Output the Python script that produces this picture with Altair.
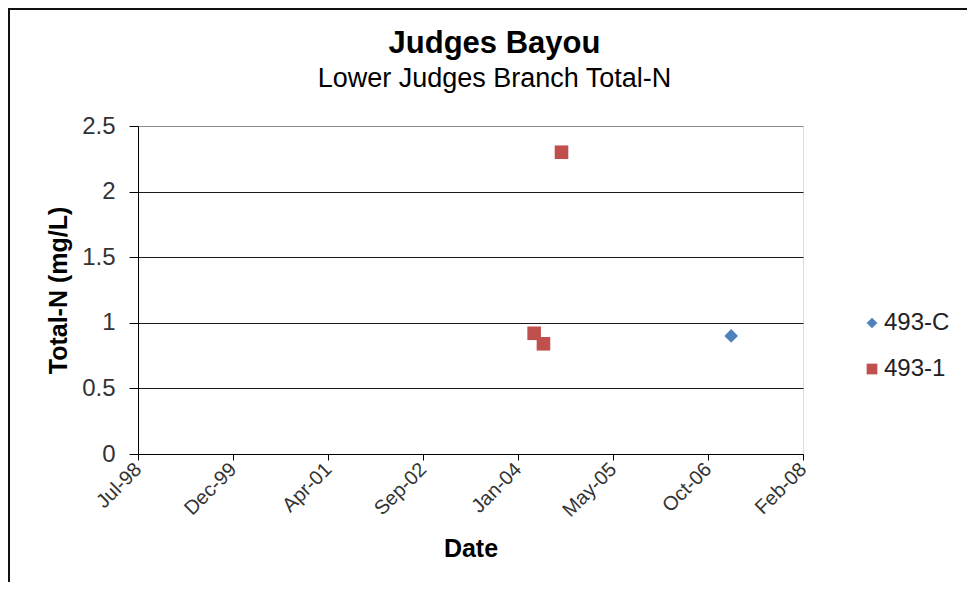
import altair as alt
import pandas as pd

# ---- data ----
series = ["493-C", "493-1", "493-1", "493-1"]
dates = ["2007-02-09", "2004-04-08", "2004-05-27", "2004-08-30"]
total_n = [0.90, 0.92, 0.84, 2.30]

series_order = ["493-C", "493-1"]
series_colors = ["#4F81BD", "#C0504D"]
series_shapes = ["diamond", "square"]

# Excel date-axis ticks (every 500 days)
x_tick_dates = [
    (1998, 7, 24), (1999, 12, 6), (2001, 4, 19), (2002, 9, 1),
    (2004, 1, 14), (2005, 5, 28), (2006, 10, 10), (2008, 2, 22),
]
y_ticks = [0, 0.5, 1, 1.5, 2, 2.5]

df = pd.DataFrame({"series": series, "date": dates, "value": total_n})

W, H = 665, 328
PAD = {"left": 130, "top": 118, "right": 164, "bottom": 128}
FONT = "Liberation Sans"


def dt(t):
    return alt.DateTime(year=t[0], month=t[1], date=t[2], utc=True)


tick_vals = [dt(t) for t in x_tick_dates]

points = alt.Chart(df).mark_point(filled=True, size=185, opacity=1).encode(
    x=alt.X(
        "date:T",
        scale=alt.Scale(type="utc", domain=[tick_vals[0], tick_vals[-1]], nice=False),
        axis=alt.Axis(
            values=tick_vals,
            format="%b-%y",
            title="Date",
            grid=False,
            labelAngle=-45,
            labelAlign="right",
            labelBaseline="middle",
            labelFont=FONT,
            labelFontSize=20,
            labelColor="#333333",
            labelPadding=6,
            tickSize=6,
            tickColor="black",
            domainColor="black",
            titleFont=FONT,
            titleFontSize=25,
            titleFontWeight="bold",
            titleColor="black",
            titleX=W / 2,
            titleY=94,
            titleAlign="center",
            titleBaseline="middle",
            labelOverlap=False,
        ),
    ),
    y=alt.Y(
        "value:Q",
        scale=alt.Scale(domain=[0, 2.5], nice=False),
        axis=alt.Axis(
            values=y_ticks,
            format="~g",
            title="Total-N (mg/L)",
            grid=True,
            gridColor={"condition": {"test": "datum.value == 2.5", "value": "#8c8c8c"},
                       "value": "#1a1a1a"},
            gridWidth=1,
            labelFont=FONT,
            labelFontSize=24,
            labelColor="#333333",
            labelPadding=14,
            tickSize=9,
            tickColor="black",
            domainColor="black",
            titleFont=FONT,
            titleFontSize=25,
            titleFontWeight="bold",
            titleColor="black",
            titleX=-80,
            titleY=H / 2,
            titleAlign="center",
            titleBaseline="middle",
        ),
    ),
    color=alt.Color(
        "series:N",
        scale=alt.Scale(domain=series_order, range=series_colors),
        legend=alt.Legend(
            title=None,
            orient="none",
            legendX=722,
            legendY=185,
            padding=0,
            labelFont=FONT,
            labelFontSize=24,
            labelColor="#222222",
            labelOffset=0,
            symbolSize=115,
            rowPadding=22,
            symbolStrokeWidth=0,
        ),
    ),
    shape=alt.Shape(
        "series:N",
        scale=alt.Scale(domain=series_order, range=series_shapes),
    ),
)

frame_data = pd.DataFrame({"k": [0]})
left_edge = alt.Chart(frame_data).mark_rule(color="#111111", strokeWidth=2).encode(
    x=alt.value(-PAD["left"] + 1),
    y=alt.value(-PAD["top"] + 1),
    y2=alt.value(H + PAD["bottom"]),
)
top_edge = alt.Chart(frame_data).mark_rule(color="#111111", strokeWidth=2).encode(
    x=alt.value(-PAD["left"]),
    x2=alt.value(W + PAD["right"]),
    y=alt.value(-PAD["top"] + 1),
)

chart = alt.layer(points, left_edge, top_edge).properties(
    width=W,
    height=H,
    padding=PAD,
    autosize=alt.AutoSizeParams(type="none"),
    title=alt.TitleParams(
        text="Judges Bayou",
        subtitle="Lower Judges Branch Total-N",
        font=FONT,
        fontSize=31,
        fontWeight="bold",
        color="black",
        subtitleFont=FONT,
        subtitleFontSize=27,
        subtitleColor="black",
        subtitlePadding=6,
        anchor="middle",
        dx=24,
        offset=-85,
    ),
).configure_view(
    stroke="#8c8c8c", strokeWidth=1
).configure(background="white")

chart.save("out.html", embed_options={"renderer": "svg", "actions": False})
